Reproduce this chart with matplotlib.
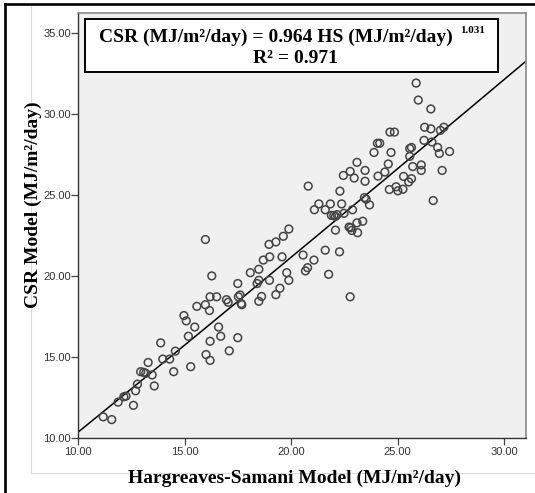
import matplotlib
matplotlib.use("Agg")
import matplotlib.pyplot as plt
from matplotlib.lines import Line2D
from matplotlib.patches import Rectangle
import numpy as np

# Hargreaves-Samani estimate vs CSR model estimate (MJ/m2/day)
hs = [11.17, 11.57, 11.87, 12.14, 12.24, 12.59, 12.69, 12.78, 12.93, 13.07,
      13.17, 13.28, 13.47, 13.57, 13.87, 13.97, 14.29, 14.48, 14.56, 14.96,
      15.07, 15.17, 15.28, 15.47, 15.57, 15.97, 16.00, 16.16, 16.19, 16.19,
      16.19, 16.27, 16.50, 16.59, 16.69, 16.96, 17.04, 17.09, 17.49, 17.49,
      17.52, 17.60, 17.68, 17.65, 18.08, 18.40, 18.48, 18.48, 18.48, 18.61,
      18.69, 18.98, 18.99, 19.28, 19.47, 19.57, 19.79, 19.89, 20.56, 20.67,
      20.77, 21.07, 21.60, 21.76, 22.27, 22.77,
      15.97, 18.96, 19.28, 19.63, 19.89, 20.80, 21.09, 21.30, 21.60, 21.84,
      21.89, 22.00, 22.08, 22.16, 22.29, 22.37, 22.08, 22.48, 22.45, 22.77,
      22.96, 22.88, 22.72, 22.80, 22.85, 23.09, 23.12, 23.36, 23.09, 23.47,
      23.47, 23.44, 23.52, 23.68, 23.89, 24.05, 24.16, 24.08, 24.40, 24.56,
      24.61, 24.69, 24.64, 24.85, 24.93, 25.01, 25.25, 25.28, 25.52, 25.57,
      25.57, 25.65, 25.71, 25.65, 25.87, 25.97, 26.11, 26.11, 26.24, 26.27,
      26.56, 26.56, 26.61, 26.67, 26.88, 26.96, 27.01, 27.17, 27.09, 27.44]
csr = [11.29, 11.12, 12.20, 12.53, 12.57, 12.00, 12.90, 13.31, 14.08, 14.04,
       13.98, 14.65, 13.88, 13.20, 15.86, 14.86, 14.86, 14.08, 15.35, 17.55,
       17.22, 16.27, 14.39, 16.84, 18.12, 18.22, 15.14, 17.86, 18.71, 14.78,
       15.96, 20.00, 18.71, 16.84, 16.27, 18.53, 18.37, 15.37, 19.53, 16.18,
       18.71, 18.82, 18.22, 18.29, 20.20, 19.53, 19.73, 20.41, 18.43, 18.73,
       20.98, 19.73, 21.18, 18.84, 19.24, 21.18, 20.20, 19.73, 21.29, 20.31,
       20.51, 20.98, 21.59, 20.10, 21.49, 18.71,
       22.25, 21.95, 22.10, 22.45, 22.90, 25.55, 24.09, 24.45, 24.09, 24.45,
       23.74, 23.74, 23.68, 23.79, 25.24, 24.45, 22.83, 23.87, 26.21, 26.46,
       26.05, 24.09, 23.02, 22.98, 22.81, 23.28, 22.67, 23.38, 27.02, 26.52,
       25.85, 24.84, 24.74, 24.39, 27.63, 28.20, 28.20, 26.17, 26.42, 26.92,
       25.34, 27.63, 28.89, 28.89, 25.51, 25.26, 25.36, 26.15, 25.81, 27.87,
       27.39, 26.01, 26.76, 27.94, 31.92, 30.87, 26.86, 26.52, 28.38, 29.19,
       30.32, 29.09, 28.28, 24.66, 27.94, 27.57, 29.00, 29.19, 26.52, 27.69]

# fitted power model CSR = a * HS ^ b
fit_a = 0.964
fit_b = 1.031
r_squared = 0.971

x_ticks = [10, 15, 20, 25, 30]
y_ticks = [10, 15, 20, 25, 30, 35]

serif = "Liberation Serif"
sans = "Liberation Sans"
W, H = 535, 493

fig = plt.figure(figsize=(5.35, 4.93), dpi=100)
fig.patch.set_facecolor("white")

# outer frames of the exported chart
fig.add_artist(Line2D([5 / W, 5 / W], [0, 1 - 4 / H], color="black", lw=1.9))
fig.add_artist(Line2D([5 / W, 1], [1 - 4 / H, 1 - 4 / H], color="black", lw=1.9))
fig.add_artist(Line2D([31 / W, 31 / W], [1 - 473 / H, 1 - 6 / H], color="#dcdcdc", lw=0.8, zorder=0))
fig.add_artist(Line2D([31 / W, 1], [1 - 473 / H, 1 - 473 / H], color="#dcdcdc", lw=0.8, zorder=0))

ax = fig.add_axes([78.3 / W, 1 - 437.7 / H, (526 - 78.3) / W, (437.7 - 12.7) / H])
ax.set_facecolor("#f0f0f0")
ax.set_xlim(10, 31.03)
ax.set_ylim(10, 36.27)

ax.scatter(hs, csr, s=31, facecolors="none", edgecolors="#444444", linewidths=1.1, zorder=3)

xs = np.linspace(10, 31.03, 200)
ax.plot(xs, fit_a * xs ** fit_b, color="black", lw=1.1, zorder=2)

ax.set_xticks(x_ticks)
ax.set_yticks(y_ticks)
ax.set_xticklabels(["%.2f" % v for v in x_ticks])
ax.set_yticklabels(["%.2f" % v for v in y_ticks])
ax.tick_params(direction="out", length=4.7, width=0.9, color="#444444",
               labelsize=8, labelcolor="#333333")
ax.tick_params(axis="x", pad=2)
ax.tick_params(axis="y", pad=0.5)
for lab in ax.get_xticklabels() + ax.get_yticklabels():
    lab.set_family(sans)

for side in ["left", "bottom"]:
    ax.spines[side].set_color("#333333")
    ax.spines[side].set_linewidth(1.0)
for side in ["top", "right"]:
    ax.spines[side].set_color("#888888")
    ax.spines[side].set_linewidth(1.2)

# equation box
ax.add_patch(Rectangle((0.015, 0.8605), 0.9225, 0.124, transform=ax.transAxes,
                       facecolor="white", edgecolor="black", lw=1.4, zorder=4))
ax.text(0.046, 0.942, "CSR (MJ/m²/day) = %.3f HS (MJ/m²/day)" % fit_a, transform=ax.transAxes,
        ha="left", va="center", fontsize=14, fontweight="bold", family=serif, zorder=5)
ax.text(0.8526, 0.957, "%.3f" % fit_b, transform=ax.transAxes, ha="left", va="center",
        fontsize=8, fontweight="bold", family=serif, zorder=5)
ax.text(0.486, 0.893, "R² = %.3f" % r_squared, transform=ax.transAxes, ha="center", va="center",
        fontsize=14, fontweight="bold", family=serif, zorder=5)

fig.text(33 / W, 1 - 205 / H, "CSR Model (MJ/m²/day)", rotation=90, ha="center", va="center",
         fontsize=14, fontweight="bold", family=serif)
fig.text(295 / W, 1 - 483 / H, "Hargreaves-Samani Model (MJ/m²/day)", ha="center", va="baseline",
         fontsize=14, fontweight="bold", family=serif)

fig.savefig("out.png", dpi=100)
